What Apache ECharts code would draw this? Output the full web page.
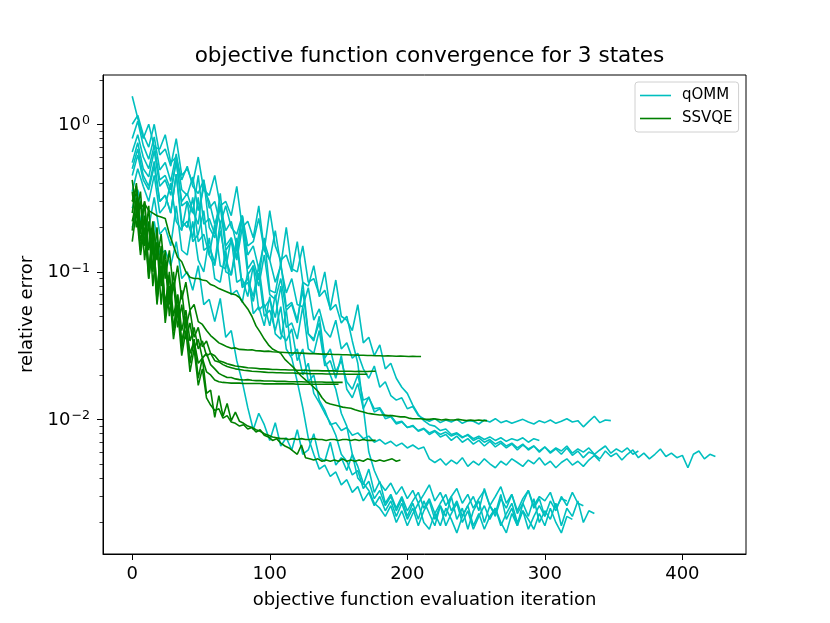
<!DOCTYPE html>
<html>
<head>
<meta charset="utf-8">
<script src="https://cdn.jsdelivr.net/npm/echarts@6/dist/echarts.min.js"></script>
<style>
html,body{margin:0;padding:0;background:#fff;}
#chart{width:830px;height:623px;}
</style>
</head>
<body>
<div id="chart"></div>
<script>
// ---- data (relative error per objective function evaluation) ----
const qommStep = 4;   // iterations between stored samples
const ssvqeStep = 3;

const qomm1 = [0.80,1.05,0.72,0.58,0.82,0.49,0.55,0.41,0.63,0.36,0.33,0.44,0.26,0.37,0.3,0.21,0.28,0.19,0.22,0.15,0.24,0.13,0.15,0.105,0.16,0.12,0.085,0.11,0.072,0.09,0.06,0.058,0.078,0.047,0.056,0.04,0.036,0.047,0.03,0.033,0.026,0.028,0.022,0.019,0.023,0.0165,0.018,0.0145,0.0135,0.014,0.0118,0.0122,0.0106,0.0101,
0.0097,0.0101,0.0095,0.0099,0.0096,0.0100,0.0094,0.0098,0.0097,0.0093,0.0099,0.0096,0.0101,0.0095,0.0098,0.0094,0.0097,0.0100,0.0096,0.0093,0.0098,0.0095,0.0099,0.0094,0.0097,0.0101,0.0096,0.0098,0.0089,0.0097,0.0105,0.0095,0.0099,0.0098];

const qomm2 = [1.0,1.15,0.85,0.7,1.0,0.62,0.68,0.52,0.8,0.45,0.5,0.4,0.6,0.36,0.33,0.45,0.28,0.3,0.24,0.38,0.2,0.22,0.17,0.28,0.14,0.26,0.15,0.12,0.13,0.1,0.16,0.085,0.08,0.11,0.068,0.075,0.056,0.088,0.05,0.047,0.04,0.06,0.033,0.036,0.027,0.032,0.022,0.024,0.019,0.0165,0.015,0.0125,0.0108,0.0098,
0.0092,0.009,0.0084,0.0086,0.0079,0.0081,0.0076,0.0078,0.0072,0.0075,0.007,0.0073,0.0068,0.0071,0.0066,0.0069,0.0064,0.0068,0.0062,0.0066,0.006,0.0065,0.0059,0.0063,0.0058,0.0064,0.0057,0.0061,0.0055,0.006,0.0058,0.0054,0.0061,0.0056,0.0059,0.0053,0.0058,0.0062,0.0055,0.0059,0.0054,0.0058,0.0063,0.0056,0.0059,0.0055,0.0057,0.0047,0.0058,0.0061,0.0054,0.0058,0.0056];

const qomm3 = [0.65,0.85,0.6,0.5,0.72,0.42,0.45,0.36,0.55,0.3,0.34,0.26,0.21,0.42,0.2,0.17,0.28,0.14,0.16,0.12,0.2,0.095,0.11,0.08,0.13,0.07,0.065,0.09,0.055,0.06,0.045,0.085,0.038,0.034,0.05,0.026,0.03,0.021,0.025,0.018,0.016,0.02,0.0135,
0.014,0.0118,0.012,0.0105,0.0106,0.0095,0.0097,0.0088,0.0091,0.0083,0.0086,0.0079,0.0083,0.0076,0.0079,0.0072,0.0077,0.007,0.0074,0.0068,0.0072,0.0066,0.0071,0.0065,0.0069,0.0064,0.0068,0.0062,0.0067,0.0063,0.0066,0.0061,0.0065,0.006,0.0064,0.0061,0.0066,0.0059,0.0063,0.006,0.0064,0.0058,0.0062,0.0066,0.0059,0.0063,0.006,0.0064,0.0058,0.0061];

const qomm4 = [0.5,0.68,0.45,0.38,0.56,0.3,0.33,0.25,0.46,0.22,0.2,0.32,0.16,0.18,0.13,0.21,0.11,0.105,0.17,0.085,0.09,0.068,0.11,0.055,0.06,0.043,0.07,0.038,0.034,0.041,0.025,0.03,0.018,0.02,0.0135,0.0115,
0.0092,0.0095,0.0084,0.0088,0.0078,0.0081,0.0074,0.0077,0.007,0.0073,0.0068,0.0071,0.0066,0.0069,0.0064,0.0067,0.0063,0.0065,0.0054,0.0051,0.0054,0.0049,0.0053,0.005,0.0055,0.0048,0.0052,0.0049,0.0054,0.005,0.0047,0.0052,0.0049,0.0054,0.0051,0.0048,0.0053,0.005,0.0055,0.0049,0.0052,0.0047,0.0051,0.0054,0.0049,0.0052,0.0048,0.0053,0.0057,0.0052];

const qomm5 = [0.35,0.5,0.38,0.3,0.45,0.25,0.28,0.4,0.22,0.19,0.3,0.16,0.18,0.26,0.13,0.11,0.19,0.12,0.095,0.17,0.08,0.09,0.068,0.11,0.057,0.065,0.049,0.08,0.042,0.045,0.035,0.058,0.03,0.028,0.04,0.023,0.025,0.019,0.027,0.016,0.014,0.0175,0.0118,0.0142,
0.0112,0.0118,0.0101,0.0104,0.0093,0.0096,0.0088,0.009,0.0084,0.0087,0.0081,0.0084,0.0079,0.0082,0.0077,0.008,0.0075,0.0079,0.0074,0.0077,0.0073,0.0076,0.0072,0.0075,0.0071,0.0074,0.0072,0.0075,0.007,0.0074,0.0072];

const qomm6 = [0.27,0.36,0.24,0.2,0.32,0.18,0.2,0.15,0.28,0.14,0.13,0.22,0.12,0.1,0.17,0.09,0.085,0.14,0.07,0.075,0.062,0.1,0.052,0.058,0.043,0.068,0.038,0.035,0.055,0.027,0.03,0.02,0.024,0.015,0.013,0.011,0.0095,0.0078,0.0058,0.0052,
0.0042,0.0045,0.0034,0.0038,0.0029,0.0033,0.0026,0.003,0.0024,0.0029,0.0022,0.0027,0.0021,0.0028,0.0023,0.0019,0.0026,0.0022,0.003,0.0021,0.0025,0.0018,0.0024,0.0028,0.002,0.0026,0.0023,0.0031,0.0021,0.0025,0.0019,0.0027,0.0022,0.0029,0.002,0.0024,0.0021,0.0027,0.0019,0.0025,0.0022,0.0028,0.002,0.0024,0.0023];

const qomm7 = [0.2,0.27,0.19,0.15,0.22,0.13,0.14,0.11,0.16,0.09,0.1,0.075,0.11,0.06,0.065,0.046,0.066,0.036,0.04,0.025,0.018,0.012,
0.0085,0.011,0.0092,0.0072,0.0095,0.0066,0.0075,0.0062,0.0085,0.0058,0.0062,0.008,0.0055,0.0052,0.007,0.0049,0.0055,0.0045,0.0058,0.004,0.0036,0.0046,0.0032,0.0038,
0.0027,0.0031,0.0025,0.003,0.0024,0.0028,0.0032,0.0025,0.0029,0.0023,0.0027,0.0031,0.0024,0.0028,0.0022,0.0026,0.003,0.0024,0.0034,0.0026,0.0022,0.0029,0.0025,0.0031,0.0023,0.0027,0.0033,0.0025,0.0029,0.0022,0.0028,0.0024,0.003,0.0026,0.0032,0.0027,0.0026];

const qomm8 = [0.55,0.75,0.5,0.44,0.66,0.38,0.42,0.33,0.58,0.28,0.3,0.25,0.45,0.21,0.23,0.18,0.34,0.15,0.17,0.125,0.24,0.105,0.12,0.088,0.17,0.075,0.072,0.115,0.058,0.062,0.047,0.075,0.038,0.035,0.045,0.025,0.02,0.016,
0.011,0.009,0.0058,0.0048,0.0037,0.0033,0.0027,0.0025,0.0022,0.0026,0.002,0.0024,0.0019,0.0023,0.0027,0.002,0.0018,0.0023,0.0019,0.0025,0.0021,0.0017,0.0022,0.0026,0.0019,0.0023,0.0018,0.0022,0.0025,0.002,0.0017,0.0023,0.0019,0.0024,0.0021,0.0018,0.0023,0.0019,0.0025,0.002,0.0017,0.0022,0.0021];

const qomm9 = [1.55,1.1,0.8,1.0,0.7,0.68,0.85,0.55,0.6,0.42,0.52,0.38,0.34,0.42,0.27,0.3,0.21,0.28,0.2,0.18,0.24,0.15,0.16,0.23,0.14,0.12,0.19,0.11,0.2,0.105,0.1,0.15,0.085,0.09,0.07,0.1,0.055,0.06,0.045,0.05,0.034,0.024,
0.012,0.006,0.0045,0.0037,0.0033,0.0037,0.0031,0.0035,0.0029,0.0033,0.0027,0.0031,0.0036,0.0028,0.0032,0.0026,0.003,0.0034,0.0027,0.0031,0.0025,0.0029,0.0033,0.0026,0.003,0.0035,0.0027,0.0031,0.0024,0.0029,0.0033,0.0026,0.003,0.0028,0.0032,0.0025,0.0029,0.0028];

const qomm10 = [0.45,0.62,0.42,0.36,0.52,0.3,0.33,0.25,0.46,0.2,0.22,0.17,0.32,0.14,0.15,0.115,0.22,0.1,0.095,0.15,0.078,0.085,0.063,0.098,0.05,0.055,0.04,0.058,0.03,0.026,0.018,0.012,
0.0075,0.0058,0.0046,0.0049,0.0041,0.0044,0.0036,0.0039,0.0032,0.0035,0.0028,0.0032,0.0026,0.003,0.0024,0.0028,0.0022,0.0027,0.0021,0.0025,0.0019,0.0024,0.0028,0.0021,0.0026,0.0019,0.0023,0.0027,0.002,0.0024,0.0018,0.0022,0.0026,0.0021,0.0025,0.0019,0.0023,0.0027,0.002,0.0024,0.0018,0.0022,0.0026,0.0022];

const ssvqe1 = [0.3,0.38,0.2,0.3,0.14,0.22,0.12,0.18,0.09,0.14,0.075,0.11,0.065,0.085,0.055,0.06,0.046,0.044,0.04,0.037,0.035,0.033,0.032,0.031,0.0303,0.0305,0.0298,0.0297,0.0295,0.0296,0.0292,0.0291,0.0289,0.029,0.0287,0.0286,0.0285,0.0284,0.0283,0.0282,0.0282,0.0281,0.028,0.0279,0.0279,0.0278,0.0277,0.0277,0.0276,0.0275,0.0275,0.0274,0.0274,0.0273,0.0273,0.0272,0.0272,0.0271,0.0271,0.027,0.027,0.0269,0.027,0.0269,0.0268,0.0269,0.0268,0.0267,0.0268,0.0267,0.0267];

const ssvqe2 = [0.42,0.25,0.35,0.15,0.28,0.1,0.2,0.08,0.14,0.06,0.1,0.05,0.075,0.042,0.055,0.036,0.042,0.031,0.034,0.028,0.027,0.025,0.0245,0.0238,0.0234,0.023,0.0228,0.0226,0.0224,0.0223,0.0222,0.022,0.022,0.0219,0.0218,0.0218,0.0217,0.0217,0.0216,0.0216,0.0215,0.0215,0.0215,0.0214,0.0214,0.0214,0.0213,0.0213,0.0213,0.0213,0.0212,0.0212,0.0212,0.0212,0.0211,0.0212,0.0211,0.0211,0.0212,0.0212];

const ssvqe3 = [0.22,0.3,0.16,0.24,0.1,0.18,0.075,0.13,0.06,0.095,0.05,0.07,0.04,0.055,0.034,0.042,0.03,0.034,0.027,0.028,0.025,0.0245,0.0235,0.0228,0.0224,0.022,0.0218,0.0215,0.0214,0.0212,0.0211,0.021,0.0209,0.0208,0.0208,0.0207,0.0207,0.0206,0.0206,0.0206,0.0205,0.0205,0.0205,0.0204,0.0204,0.0204,0.0204,0.0203,0.0203,0.0203,0.0203,0.0203,0.0202,0.0202,0.0202,0.0202,0.0202,0.0202];

const ssvqe4 = [0.35,0.2,0.3,0.12,0.22,0.08,0.16,0.06,0.12,0.05,0.085,0.042,0.06,0.035,0.045,0.03,0.035,0.026,0.028,0.0235,0.022,0.0205,0.0198,0.0192,0.0192,0.0188,0.0186,0.0185,0.0186,0.0184,0.0183,0.0183,0.0182,0.0182,0.0182,0.0181,0.0181,0.0181,0.018,0.018,0.018,0.018,0.0179,0.0179,0.0179,0.0179,0.0179,0.0178,0.0178,0.0178,0.0178,0.0178];

const ssvqe5 = [0.16,0.26,0.13,0.2,0.09,0.15,0.065,0.11,0.05,0.08,0.04,0.06,0.034,0.045,0.028,0.034,0.024,0.026,0.021,0.02,0.0185,0.018,0.0178,0.0177,0.0176,0.0176,0.0176,0.0175,0.0175,0.0175,0.0175,0.0175,0.0174,0.0174,0.0174,0.0174,0.0174,0.0174,0.0174,0.0174,0.0173,0.0173,0.0173,0.0173,0.0173,0.0173,0.0173,0.0173,0.0173,0.0173,0.0173];

const ssvqe6 = [0.30,0.34,0.27,0.29,0.26,0.25,0.24,0.235,0.23,0.18,0.15,0.125,0.117,0.1,0.092,0.09,0.09,0.088,0.087,0.082,0.08,0.077,0.075,0.073,0.071,0.07,0.067,0.061,0.056,0.05,0.043,0.039,0.035,0.032,0.03,0.029,0.028,0.0255,0.024,0.0226,0.021,0.0196,0.0185,0.0175,0.0165,0.0155,0.014,0.013,0.0127,0.0125,0.0123,0.0121,0.012,0.0119,0.0116,0.0114,0.0112,0.011,0.0109,0.0108,0.0107,0.0107,0.0106,0.0106,0.0105,0.0104,0.0104,0.0102,0.0101,0.0101,0.0101,0.0100,0.0100,0.0101,0.0100,0.0099,0.0100,0.0099,0.0099,0.0100,0.0099,0.0098,0.0099,0.0098,0.0099,0.0098,0.0098];

const ssvqe7 = [0.25,0.4,0.18,0.3,0.1,0.2,0.07,0.15,0.055,0.1,0.04,0.07,0.03,0.05,0.024,0.035,0.019,0.026,0.015,0.0158,0.0103,0.0145,0.0105,0.0128,0.0098,0.0112,0.0097,0.0094,0.009,0.0088,0.0085,0.0083,0.008,0.0078,0.0076,0.0075,0.0074,0.0074,0.0073,0.0074,0.0073,0.0074,0.0073,0.0073,0.0074,0.0073,0.0073,0.0072,0.0073,0.0073,0.0072,0.0073,0.0073,0.0072,0.0073,0.0072,0.0073,0.0072,0.0072,0.0072];

const ssvqe8 = [0.19,0.32,0.14,0.24,0.09,0.16,0.06,0.11,0.045,0.075,0.035,0.055,0.027,0.04,0.021,0.03,0.017,0.022,0.014,0.0125,0.0115,0.0118,0.0102,0.0106,0.0096,0.0094,0.009,0.0092,0.0086,0.0088,0.0082,0.0085,0.0078,0.0076,0.0072,0.0074,0.0069,0.0066,0.0064,0.0061,0.0058,0.0067,0.0055,0.0054,0.0053,0.0054,0.0052,0.0053,0.0052,0.0053,0.0052,0.0054,0.0052,0.0053,0.0052,0.0053,0.0052,0.0054,0.0053,0.0052,0.0053,0.0052,0.0053,0.0054,0.0052,0.0053];

const qommRuns = [qomm1, qomm2, qomm3, qomm4, qomm5, qomm6, qomm7, qomm8, qomm9, qomm10];
const ssvqeRuns = [ssvqe1, ssvqe2, ssvqe3, ssvqe4, ssvqe5, ssvqe6, ssvqe7, ssvqe8];

const xTicks = [0, 100, 200, 300, 400];
const yTicks = [0.01, 0.1, 1];
const yMinorTicks = [0.002,0.003,0.004,0.005,0.006,0.007,0.008,0.009,0.02,0.03,0.04,0.05,0.06,0.07,0.08,0.09,0.2,0.3,0.4,0.5,0.6,0.7,0.8,0.9,2];

const titleText = 'objective function convergence for 3 states';
const xName = 'objective function evaluation iteration';
const yName = 'relative error';

// ---- chart ----
const FONT = 'DejaVu Sans';
const CYAN = '#00bfbf';
const GREEN = '#008000';
const Y_MIN = 0.001223, Y_MAX = 2.158;

function toSeries(runs, step, name, color) {
  return runs.map(arr => ({
    name: name,
    type: 'line',
    showSymbol: false,
    symbol: 'none',
    animation: false,
    lineStyle: { color: color, width: 1.6 },
    itemStyle: { color: color },
    data: arr.map((v, i) => [i * step, v])
  }));
}

const chart = echarts.init(document.getElementById('chart'), null, { renderer: 'canvas' });
const supLabel = v => {
  const e = Math.round(Math.log10(v));
  return '{b|10}{s|' + (e < 0 ? '\u2212' + (-e) : String(e)) + '}';
};

chart.setOption({
  animation: false,
  backgroundColor: '#fff',
  title: {
    text: titleText,
    left: 424.5,
    textAlign: 'center',
    top: 40,
    textStyle: { fontFamily: FONT, fontSize: 21.6, fontWeight: 'normal', color: '#000' }
  },
  legend: {
    data: ['qOMM', 'SSVQE'],
    orient: 'vertical',
    left: 635,
    top: 82,
    padding: [5, 6, 5, 5],
    itemGap: 6,
    itemWidth: 31,
    itemHeight: 1.6,
    icon: 'rect',
    borderColor: '#d0d0d0',
    borderWidth: 1,
    borderRadius: 3,
    backgroundColor: 'rgba(255,255,255,0.8)',
    textStyle: { fontFamily: FONT, fontSize: 15, lineHeight: 17, color: '#000', padding: [0, 0, 0, 6] }
  },
  grid: { left: 103, right: 84, top: 75, bottom: 69, show: true, borderColor: '#000', borderWidth: 1, backgroundColor: 'transparent' },
  xAxis: {
    type: 'value',
    min: -21.25,
    max: 446.25,
    name: xName,
    nameLocation: 'middle',
    nameGap: 37,
    nameTextStyle: { fontFamily: FONT, fontSize: 18, color: '#000' },
    axisLine: { show: true, onZero: false, lineStyle: { color: '#000', width: 1 } },
    axisTick: { show: true, inside: false, length: 6, customValues: xTicks, lineStyle: { color: '#000' } },
    axisLabel: { customValues: xTicks, margin: 11, fontFamily: FONT, fontSize: 18, color: '#000' },
    splitLine: { show: false }
  },
  yAxis: [{
    type: 'log',
    logBase: 10,
    min: Y_MIN,
    max: Y_MAX,
    name: yName,
    nameLocation: 'middle',
    nameGap: 61,
    nameTextStyle: { fontFamily: FONT, fontSize: 18, color: '#000' },
    axisLine: { show: true, onZero: false, lineStyle: { color: '#000', width: 1 } },
    axisTick: { show: true, inside: false, length: 6, customValues: yTicks, lineStyle: { color: '#000' } },
    axisLabel: {
      customValues: yTicks,
      margin: 13,
      formatter: supLabel,
      rich: {
        b: { fontFamily: FONT, fontSize: 18, color: '#000', lineHeight: 20, verticalAlign: 'bottom' },
        s: { fontFamily: FONT, fontSize: 12.6, color: '#000', lineHeight: 14, verticalAlign: 'top', padding: [0, 0, 0, 1] }
      }
    },
    splitLine: { show: false }
  }, {
    type: 'log',
    logBase: 10,
    min: Y_MIN,
    max: Y_MAX,
    position: 'left',
    axisLine: { show: false, onZero: false },
    axisTick: { show: true, inside: false, length: 3.5, customValues: yMinorTicks, lineStyle: { color: '#000', width: 0.8 } },
    axisLabel: { show: false },
    splitLine: { show: false }
  }],
  series: toSeries(qommRuns, qommStep, 'qOMM', CYAN).concat(toSeries(ssvqeRuns, ssvqeStep, 'SSVQE', GREEN))
});
</script>
</body>
</html>
